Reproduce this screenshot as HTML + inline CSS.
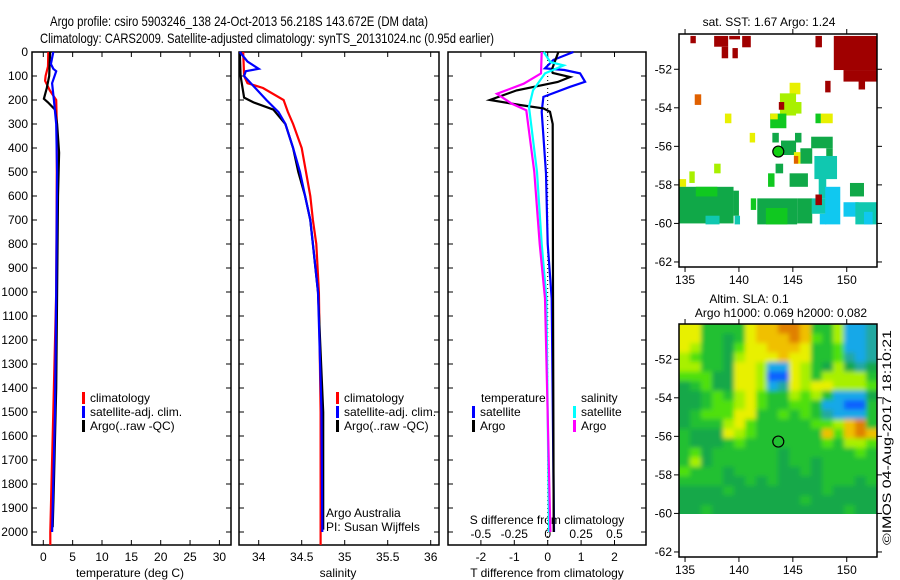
<!DOCTYPE html>
<html><head><meta charset="utf-8"><style>
html,body{margin:0;padding:0;background:#fff;}
svg{display:block;font-family:"Liberation Sans",sans-serif;}
</style></head><body>
<svg id="chart" width="900" height="580" viewBox="0 0 900 580" xmlns="http://www.w3.org/2000/svg">
<defs>
<filter id="blur" x="-5%" y="-5%" width="110%" height="110%"><feGaussianBlur stdDeviation="2.5"/></filter>
<clipPath id="slaclip"><rect x="679" y="324" width="198" height="190"/></clipPath>
</defs>
<text x="50" y="26" font-size="14" textLength="378" lengthAdjust="spacingAndGlyphs">Argo profile: csiro 5903246_138 24-Oct-2013 56.218S 143.672E (DM data)</text>
<text x="40" y="43" font-size="14" textLength="454" lengthAdjust="spacingAndGlyphs">Climatology: CARS2009. Satellite-adjusted climatology: synTS_20131024.nc (0.95d earlier)</text>
<g id="plots"></g>
<text transform="translate(891,545) rotate(-90)" font-size="12" textLength="215" lengthAdjust="spacingAndGlyphs">©IMOS 04-Aug-2017 18:10:21</text>
</svg>
<script>
// ---- profile data (depth dbar, value) ----
const depthTicks=[0,100,200,300,400,500,600,700,800,900,1000,1100,1200,1300,1400,1500,1600,1700,1800,1900,2000];
const tempTicks=[0,5,10,15,20,25,30];
const salTicks=[34,34.5,35,35.5,36];
const salTickLabels=["34","34.5","35","35.5","36"];
const tdiffTicks=[-2,-1,0,1,2];
const sdiffTicks=[-0.5,-0.25,0,0.25,0.5];
const sdiffTickLabels=["-0.5","-0.25","0","0.25","0.5"];

const tempClimDepth=[0,60,100,120,160,200,300,500,1000,1500,2000,2054];
const tempClimVal=[0.85,0.8,0.4,0.3,1.1,2.2,2.3,2.3,2.2,1.7,1.2,1.2];
const tempArgoDepth=[0,100,150,195,210,240,300,420,600,1000,1400,1800,1980];
const tempArgoVal=[1.15,1.0,0.6,0.1,0.8,2.0,2.35,2.7,2.5,2.35,2.2,1.8,1.6];
const tempSatDepth=[0,50,70,80,130,200,300,500,1000,1500,2000];
const tempSatVal=[1.7,1.3,1.7,2.2,1.5,1.8,2.2,2.35,2.2,2.0,1.5];

const salClimDepth=[0,100,130,150,200,250,300,400,500,600,700,800,1000,1500,2054];
const salClimVal=[33.82,33.83,33.87,34.05,34.29,34.34,34.40,34.50,34.55,34.60,34.63,34.67,34.70,34.72,34.72];
const salArgoDepth=[0,100,190,210,240,300,400,500,600,700,800,1000,1500,1990];
const salArgoVal=[33.78,33.79,33.83,33.94,34.17,34.31,34.40,34.46,34.54,34.60,34.63,34.69,34.75,34.75];
const salSatDepth=[0,40,70,80,100,150,200,250,300,400,500,600,700,800,1000,1500,2000];
const salSatVal=[33.78,33.87,34.0,33.85,33.83,33.96,34.09,34.23,34.31,34.40,34.48,34.54,34.60,34.63,34.69,34.73,34.74];

const dtArgoDepth=[0,75,87,104,125,160,200,221,235,249,300,1000,2000];
const dtArgoVal=[0.32,0.12,0.15,0.67,0.3,-0.93,-1.73,-0.83,-0.13,0.07,0.15,0.16,0.18];
const dtSatDepth=[0,33,68,75,89,124,145,187,249,506,800,1027,2000];
const dtSatVal=[0.77,0.17,-0.08,0.5,0.97,1.12,0.67,-0.13,-0.18,-0.05,0.0,0.12,0.19];
const dsSatDepth=[0,42,56,89,160,229,500,800,1027,2000];
const dsSatVal=[-0.03,0.02,0.12,-0.02,-0.11,-0.14,-0.08,-0.045,-0.01,0.01];
const dsArgoDepth=[0,89,132,174,215,243,500,800,1027,2000];
const dsArgoVal=[-0.045,-0.05,-0.18,-0.38,-0.27,-0.16,-0.1,-0.06,-0.02,0.02];

// ---- map data ----
const lonTicks=[135,140,145,150];
const latTicks=[-52,-54,-56,-58,-60,-62];
const argoLon=143.65, argoLat=-56.27;
const sstPalette={r:"#a00000",o:"#e06000",y:"#e8f000",g:"#a8f000",G:"#10c820",d:"#10a848",t:"#10c8b0",c:"#10c8f0"};
// [lon0,lat0,lon1,lat1,colour]
const sstCells=[
[135.5,-50.27,136.0,-50.65,"r"],[137.7,-50.27,139.0,-50.83,"r"],[138.4,-50.83,139.0,-51.43,"r"],
[139.4,-50.9,139.9,-51.43,"r"],[139.1,-50.27,140.1,-50.45,"r"],[140.3,-50.27,141.1,-50.86,"r"],
[147.1,-50.27,147.7,-50.86,"r"],[148.8,-50.27,152.8,-52.04,"r"],[149.7,-52.04,152.8,-52.64,"r"],
[148.0,-52.6,148.5,-53.2,"r"],[151.1,-52.5,151.7,-53.05,"r"],
[135.9,-53.3,136.5,-53.85,"o"],[138.7,-54.3,139.3,-54.8,"y"],
[144.7,-52.7,145.7,-53.3,"y"],[143.8,-53.25,145.3,-54.4,"g"],[142.9,-54.3,144.4,-55.06,"G"],
[142.9,-54.3,143.6,-54.6,"y"],[143.7,-53.7,144.2,-54.1,"r"],[144.9,-53.7,145.8,-54.3,"g"],
[147.1,-54.3,147.6,-54.8,"G"],[147.6,-54.3,148.7,-54.8,"y"],[141.0,-55.3,141.5,-55.8,"y"],
[143.1,-55.3,143.7,-55.8,"d"],[143.9,-55.7,145.3,-56.45,"d"],[145.2,-55.3,145.8,-55.8,"d"],
[146.7,-55.5,148.7,-56.1,"d"],[148.1,-56.1,148.7,-56.6,"d"],[145.7,-56.1,146.8,-56.9,"d"],
[145.1,-56.3,145.7,-56.9,"y"],[145.1,-56.5,145.5,-56.9,"o"],[147.0,-56.5,149.1,-57.7,"t"],
[143.4,-56.9,144.1,-57.4,"d"],[137.7,-56.9,138.3,-57.4,"g"],[135.4,-57.3,135.9,-57.9,"g"],
[134.44,-57.7,135.1,-58.1,"y"],[134.44,-58.1,139.5,-60.0,"d"],[136.0,-58.1,138.0,-58.6,"G"],
[141.1,-58.7,141.6,-59.3,"G"],[141.7,-58.7,145.4,-60.05,"d"],[142.5,-59.2,144.5,-60.05,"G"],
[142.7,-57.4,143.3,-58.1,"G"],[144.7,-57.4,146.4,-58.1,"d"],[145.4,-58.7,146.8,-60.0,"d"],
[146.75,-58.7,148.1,-59.5,"t"],[147.5,-59.5,148.1,-60.05,"c"],[147.4,-57.6,148.1,-58.7,"t"],
[148.0,-58.1,149.4,-60.05,"c"],[149.7,-58.9,151.1,-59.65,"c"],[150.3,-57.9,151.6,-58.6,"d"],
[150.8,-58.9,152.8,-60.05,"t"],[151.6,-59.4,152.4,-60.05,"c"],[139.6,-59.6,140.1,-60.05,"t"],
[136.9,-59.6,138.2,-60.05,"t"],[147.1,-58.5,147.7,-59.05,"r"],[139.5,-58.3,140.0,-59.6,"d"]
];
const slaPalette=["#1060ff","#18a8e8","#20a8a0","#18a848","#20c030","#50e010","#a8f000","#e8f000","#f0c000","#e08000"];
const slaGrid=[
"774444788998446112","774434788898546112","764435778887445112","654436777877445212",
"664437761176436323","555337760076466664","345337761276776665","334546754465641113",
"334556754455411004","345557744545421114","344467544444556894","433376544444485898",
"433345444444454665","453444444344444454","463444444344344444","544434444334344444",
"444433434333344434","333343333333343333","333333333334333333","334333333333333433"];

const NS="http://www.w3.org/2000/svg";
const root=document.getElementById('plots');
function mk(tag,attrs,parent){const e=document.createElementNS(NS,tag);for(const k in attrs)e.setAttribute(k,attrs[k]);(parent||root).appendChild(e);return e;}
function txt(s,x,y,size,anchor,parent){const t=mk('text',{x:x,y:y,'font-size':size,'text-anchor':anchor||'start'},parent);t.textContent=s;return t;}

const Y0=52, PXD=0.24, YB=545;
const yD=d=>Y0+d*PXD;
function linePath(depths,vals,xf){return depths.map((d,i)=>(i?'L':'M')+xf(vals[i]).toFixed(1)+','+yD(d).toFixed(1)).join('');}

function panel(name,x0,x1){
  const g=mk('g',{});
  
  
  mk('rect',{x:x0,y:Y0,width:x1-x0,height:YB-Y0,fill:'none',stroke:'#000','stroke-width':1.5},g);
  depthTicks.forEach(d=>{mk('line',{x1:x0,x2:x0+5,y1:yD(d),y2:yD(d),stroke:'#000'},g);mk('line',{x1:x1,x2:x1-5,y1:yD(d),y2:yD(d),stroke:'#000'},g);});
  return g;
}
function series(g,name,depths,vals,xf,color,w){
  const p=mk('path',{d:linePath(depths,vals,xf),fill:'none',stroke:color,'stroke-width':w||2.2},g);
  
  
}
function xticks(g,ticks,labels,xf,ylab){
  ticks.forEach((v,i)=>{const x=xf(v);mk('line',{x1:x,x2:x,y1:Y0,y2:Y0+5,stroke:'#000'},g);mk('line',{x1:x,x2:x,y1:YB,y2:YB-5,stroke:'#000'},g);
    if(ylab)txt(labels[i],x,ylab,12,'middle',g);});
}
function legend(g,x,y,items){
  items.forEach((it,i)=>{mk('rect',{x:x,y:y+i*14-10,width:3,height:12,fill:it[1]},g);txt(it[0],x+8,y+i*14,12,'start',g);});
}

// Panel 1 temperature
const xT=v=>43.3+v*5.87;
const p1=panel('temperature-panel',32,231);
depthTicks.forEach(d=>{txt(String(d),28,yD(d)+4,12,'end',p1);});
xticks(p1,tempTicks,tempTicks.map(String),xT,561);
txt('temperature (deg C)',130,577,12,'middle',p1);
series(p1,'temp-climatology-line',tempClimDepth,tempClimVal,xT,'#ff0000');
series(p1,'temp-argo-line',tempArgoDepth,tempArgoVal,xT,'#000');
series(p1,'temp-satellite-line',tempSatDepth,tempSatVal,xT,'#0000ff');
legend(p1,82,402,[['climatology','#ff0000'],['satellite-adj. clim.','#0000ff'],['Argo(..raw -QC)','#000']]);

// Panel 2 salinity
const xS=v=>258.7+(v-34)*86;
const p2=panel('salinity-panel',239,439);
xticks(p2,salTicks,salTickLabels,xS,561);
txt('salinity',338,577,12,'middle',p2);
series(p2,'sal-climatology-line',salClimDepth,salClimVal,xS,'#ff0000');
series(p2,'sal-argo-line',salArgoDepth,salArgoVal,xS,'#000');
series(p2,'sal-satellite-line',salSatDepth,salSatVal,xS,'#0000ff');
legend(p2,336,402,[['climatology','#ff0000'],['satellite-adj. clim.','#0000ff'],['Argo(..raw -QC)','#000']]);
txt('Argo Australia',326,517,12,'start',p2);
txt('PI: Susan Wijffels',326,531,12,'start',p2);

// Panel 3 differences
const xDT=v=>547.7+v*33.4;
const xDS=v=>547.7+v*133.6;
const p3=panel('difference-panel',448,646);
xticks(p3,tdiffTicks,tdiffTicks.map(String),xDT,561);
sdiffTicks.forEach((v,i)=>txt(sdiffTickLabels[i],xDS(v),538,12,'middle',p3));
txt('S difference from climatology',547,524,12,'middle',p3);
txt('T difference from climatology',547,577,12,'middle',p3);
mk('line',{x1:xDT(0),x2:xDT(0),y1:Y0,y2:YB,stroke:'#000','stroke-dasharray':'1,3'},p3);
series(p3,'dt-satellite-line',dtSatDepth,dtSatVal,xDT,'#0000ff');
series(p3,'dt-argo-line',dtArgoDepth,dtArgoVal,xDT,'#000');
series(p3,'ds-satellite-line',dsSatDepth,dsSatVal,xDS,'#00ffff');
series(p3,'ds-argo-line',dsArgoDepth,dsArgoVal,xDS,'#ff00ff');
txt('temperature',481,402,12,'start',p3);
legend(p3,472,416,[['satellite','#0000ff'],['Argo','#000']]);
txt('salinity',581,402,12,'start',p3);
legend(p3,573,416,[['satellite','#00ffff'],['Argo','#ff00ff']]);

// Maps
const MX0=679,MX1=877,LON0=134.44,PXLON=10.78,PXLAT=19.27,LAT0=-50.17;
const xL=lon=>MX0+(lon-LON0)*PXLON;
function mapFrame(name,top){
  const g=mk('g',{});
  
  
  const yl=lat=>top+(LAT0-lat)*PXLAT;
  return {g,yl};
}
function mapAxes(m,top){
  const bot=top+233;
  mk('rect',{x:MX0,y:top,width:MX1-MX0,height:bot-top,fill:'none',stroke:'#000','stroke-width':1.5},m.g);
  lonTicks.forEach(l=>{const x=xL(l);mk('line',{x1:x,x2:x,y1:top,y2:top-5,stroke:'#000'},m.g);mk('line',{x1:x,x2:x,y1:bot,y2:bot+5,stroke:'#000'},m.g);txt(String(l),x,bot+17,12,'middle',m.g);});
  latTicks.forEach(l=>{const y=m.yl(l);mk('line',{x1:MX0,x2:MX0-5,y1:y,y2:y,stroke:'#000'},m.g);mk('line',{x1:MX1,x2:MX1+5,y1:y,y2:y,stroke:'#000'},m.g);txt(String(l),MX0-7,y+4,12,'end',m.g);});
}
// SST map
const m1=mapFrame('sst-map',34);
sstCells.forEach(c=>{const r=mk('rect',{x:xL(c[0]),y:m1.yl(c[1]),width:(c[2]-c[0])*PXLON,height:(c[1]-c[3])*PXLAT,fill:sstPalette[c[4]]},m1.g);
  
  });
mapAxes(m1,34);
txt('sat. SST: 1.67 Argo: 1.24',769,26,12,'middle',m1.g);
const c1=mk('circle',{cx:xL(argoLon),cy:m1.yl(argoLat),r:5.5,fill:'#10d010',stroke:'#000','stroke-width':1.2},m1.g);



// SLA map
const m2=mapFrame('sla-map',324);
const clipG=mk('g',{'clip-path':'url(#slaclip)'},m2.g);
const slaG=mk('g',{filter:'url(#blur)'},clipG);
const cw=(152.8-LON0)/18, ch=(60.05-50.17)/20;
slaGrid.forEach((row,ri)=>{for(let ci=0;ci<row.length;ci++){
  const x=xL(LON0+ci*cw), y=m2.yl(LAT0-ri*ch);
  const ex0=ci===0?6:0, ex1=ci===row.length-1?6:0, ey0=ri===0?6:0, ey1=ri===slaGrid.length-1?6:0;
  const r=mk('rect',{x:x-ex0,y:y-ey0,width:cw*PXLON+0.6+ex0+ex1,height:ch*PXLAT+0.6+ey0+ey1,fill:slaPalette[+row[ci]]},slaG);
  
  }});
mapAxes(m2,324);
txt('Altim. SLA: 0.1',749,303,12,'middle',m2.g);
txt('Argo h1000: 0.069 h2000: 0.082',781,317,12,'middle',m2.g);
const c2=mk('circle',{cx:xL(argoLon),cy:m2.yl(argoLat),r:5.5,fill:'none',stroke:'#000','stroke-width':1.2},m2.g);


</script>
</body></html>
